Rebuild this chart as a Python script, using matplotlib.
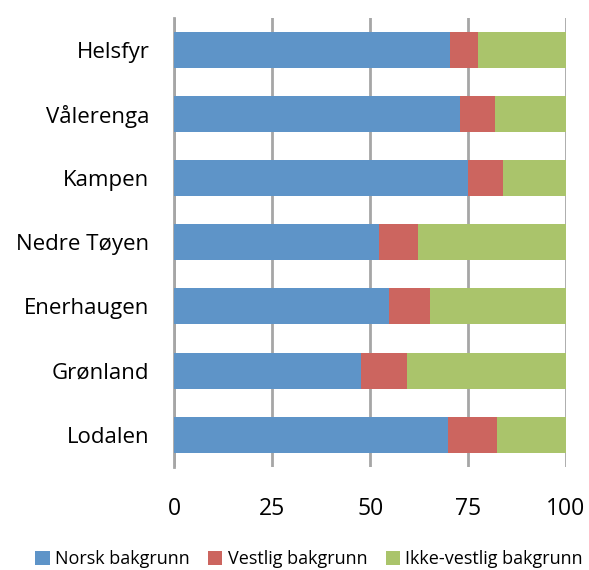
import matplotlib.pyplot as plt
import numpy as np

# data (percent)
omrader = ['Helsfyr', 'Vålerenga', 'Kampen', 'Nedre Tøyen', 'Enerhaugen', 'Grønland', 'Lodalen']
norsk = [70.4, 72.9, 74.9, 52.2, 54.7, 47.7, 69.9]
vestlig = [7.2, 8.9, 9.1, 9.9, 10.6, 11.8, 12.6]
ikke_vestlig = [22.4, 18.2, 16.0, 37.9, 34.7, 40.5, 17.5]

plt.rcParams['font.family'] = ['Open Sans', 'DejaVu Sans']

fig = plt.figure(figsize=(5.89, 5.70), dpi=100)
ax = fig.add_axes([0.296, 0.181, 0.665, 0.788])

y = np.arange(len(omrader))[::-1]
h = 0.56
left1 = np.array(norsk)
left2 = left1 + np.array(vestlig)
ax.barh(y, norsk, height=h, color='#5E94C8', label='Norsk bakgrunn', zorder=3)
ax.barh(y, vestlig, left=left1, height=h, color='#CC655F', label='Vestlig bakgrunn', zorder=3)
ax.barh(y, ikke_vestlig, left=left2, height=h, color='#AAC46B', label='Ikke-vestlig bakgrunn', zorder=3)

ax.set_xlim(0, 100)
ax.set_ylim(-0.5, len(omrader) - 0.5)
ax.set_xticks([0, 25, 50, 75, 100])
ax.set_yticks(y)
ax.set_yticklabels(omrader)
ax.tick_params(axis='x', length=0, pad=22, labelsize=16.5)
ax.tick_params(axis='y', length=0, pad=18, labelsize=16)
ax.grid(axis='x', color='#A6A6A6', linewidth=2, zorder=0)
for s in ['top', 'right', 'bottom']:
    ax.spines[s].set_visible(False)
ax.spines['left'].set_color('#A6A6A6')
ax.spines['left'].set_linewidth(2)

handles, labels = ax.get_legend_handles_labels()
fig.legend(handles, labels, loc='center', bbox_to_anchor=(0.525, 1 - 559 / 570), ncol=3,
           frameon=False, fontsize=13, handlelength=0.8, handleheight=0.8,
           handletextpad=0.3, columnspacing=1.0, borderpad=0)

plt.savefig('out.png', dpi=100)
